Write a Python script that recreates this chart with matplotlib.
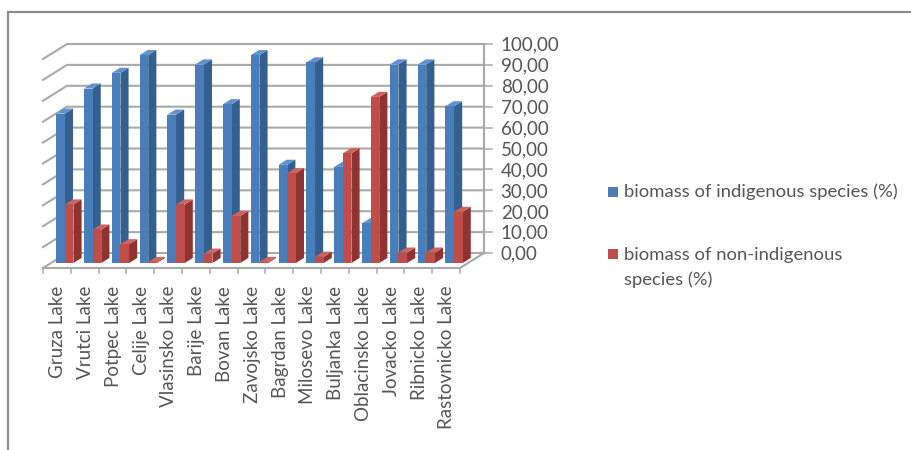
import matplotlib
matplotlib.use("Agg")
import matplotlib.pyplot as plt
from matplotlib.patches import Polygon, Rectangle

lakes = ["Gruza Lake", "Vrutci Lake", "Potpec Lake", "Celije Lake", "Vlasinsko Lake",
         "Barije Lake", "Bovan Lake", "Zavojsko Lake", "Bagrdan Lake", "Milosevo Lake",
         "Buljanka Lake", "Oblacinsko Lake", "Jovacko Lake", "Ribnicko Lake", "Rastovnicko Lake"]
indigenous = [71.5, 83.5, 91, 99.5, 71, 95, 76, 99.5, 47, 96, 46, 19, 95, 95, 75]
non_indigenous = [28, 16, 9, 0.5, 28, 4.5, 22.5, 0.5, 43, 3, 52.5, 79.5, 5, 5, 24.5]
y_ticks = [0, 10, 20, 30, 40, 50, 60, 70, 80, 90, 100]

BLUE = ("#4a7ebb", "#33608f", "#5f93cf")
RED = ("#bf4d4a", "#8f3331", "#d0625e")
GRID = "#a9a9a9"
TEXT = "#555555"
FONT = "Lato"

# pixel sizes of the picture, used to set up the axes scales
PX_CAT = 27.8
PX_VAL = 2.09
X0 = 43
Y0 = 268
# how far the floor goes back, in data units
DEPTH_X = 24 / PX_CAT
DEPTH_Y = 15 / PX_VAL


def project(x, v, d):
    return (x + d * DEPTH_X, v + d * DEPTH_Y)


def box(ax, x0, x1, v, colors):
    d0, d1 = 0.33, 0.67
    front = [project(x0, 0, d0), project(x1, 0, d0), project(x1, v, d0), project(x0, v, d0)]
    side = [project(x1, 0, d0), project(x1, 0, d1), project(x1, v, d1), project(x1, v, d0)]
    top = [project(x0, v, d0), project(x1, v, d0), project(x1, v, d1), project(x0, v, d1)]
    ax.add_patch(Polygon(side, fc=colors[1], ec="none", zorder=3))
    ax.add_patch(Polygon(top, fc=colors[2], ec="none", zorder=3))
    ax.add_patch(Polygon(front, fc=colors[0], ec="none", zorder=3))


def main():
    fig = plt.figure(figsize=(9.11, 4.5), dpi=100)
    ax = fig.add_axes([0, 0, 1, 1])
    ax.set_xlim(-X0 / PX_CAT, (911 - X0) / PX_CAT)
    ax.set_ylim(-(450 - Y0) / PX_VAL, Y0 / PX_VAL)
    ax.axis("off")

    n = len(lakes)

    # picture frame, top and left only
    ax.plot([8 / PX_CAT - X0 / PX_CAT, 8 / PX_CAT - X0 / PX_CAT, (911 - X0) / PX_CAT],
            [-(450 - Y0) / PX_VAL, (Y0 - 12) / PX_VAL, (Y0 - 12) / PX_VAL],
            color="#8c8c8c", lw=1.6, solid_joinstyle="miter")

    # walls and gridlines
    for v in y_ticks:
        xs, ys = zip(project(0, v, 0), project(0, v, 1), project(n, v, 1))
        ax.plot(xs, ys, color=GRID, lw=1.5, zorder=1)
        tx, ty = project(n, v, 1)
        ax.plot([tx, tx + 0.27], [ty, ty], color=GRID, lw=1.1, zorder=1)
        ax.text(tx + 0.6, ty - 0.6, f"{v:.2f}".replace(".", ","), fontsize=13.5, family=FONT,
                color=TEXT, va="center", ha="left")
    xs, ys = zip(project(n, 0, 1), project(n, 100, 1))
    ax.plot(xs, ys, color=GRID, lw=1.5, zorder=1)

    # floor
    xs, ys = zip(project(0, 0, 0), project(n, 0, 0), project(n, 0, 1))
    ax.plot(xs, ys, color=GRID, lw=1.5, zorder=2)
    for i in range(n + 1):
        ax.plot([i, i], [0, -2.6], color=GRID, lw=1.1, zorder=2)

    # bars, left to right so that each one covers the side of the one before
    for i in range(n):
        box(ax, i + 0.19, i + 0.5, indigenous[i], BLUE)
        box(ax, i + 0.5, i + 0.81, non_indigenous[i], RED)
        ax.text(i + 0.53, -8.5, lakes[i], rotation=90, fontsize=13.5, family=FONT,
                color=TEXT, va="top", ha="center")

    # legend
    def px(x, y):
        return ((x - X0) / PX_CAT, (Y0 - y) / PX_VAL)

    for y, c in [(187, BLUE[0]), (249, RED[0])]:
        ax.add_patch(Rectangle(px(608, y + 10), 10 / PX_CAT, 10 / PX_VAL, fc=c, ec="none"))
    for y, s in [(192, "biomass of indigenous species (%)"),
                 (255, "biomass of non-indigenous"),
                 (280, "species (%)")]:
        ax.text(*px(624, y), s, fontsize=13.3, family=FONT, color=TEXT, va="center", ha="left")

    fig.savefig("out.png", dpi=100, facecolor="white")


if __name__ == "__main__":
    main()
